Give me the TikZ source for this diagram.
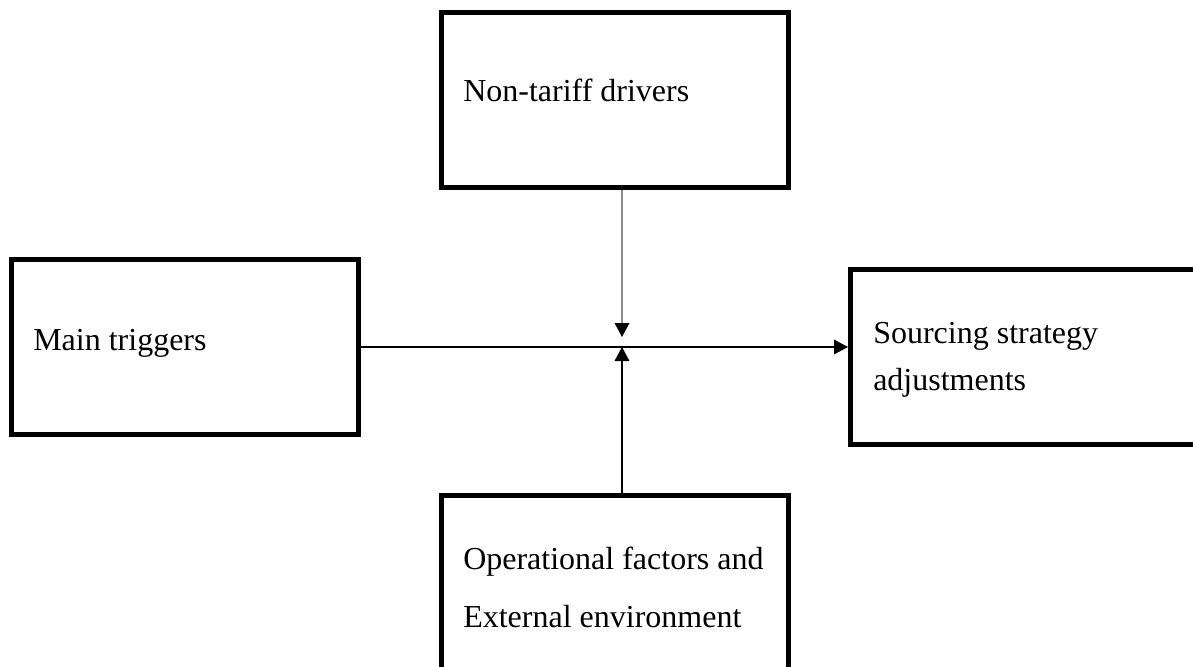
\documentclass[tikz,border=0pt]{standalone}
\usepackage{fontspec}
\setmainfont{Liberation Serif}
\usetikzlibrary{arrows.meta}
\begin{document}
\begin{tikzpicture}[x=0.75pt,y=-0.75pt,
  box/.style={draw, line width=3.75pt, inner sep=0pt, minimum height=131.25pt},
  lbl/.style={anchor=base west, inner sep=0pt, font=\fontsize{24pt}{28pt}\selectfont},
  tipb/.style={-{Triangle[length=10.5pt,width=11pt,color=black]}}]
\useasboundingbox (0,0) rectangle (1193,667);
\clip (0,0) rectangle (1193,667);
% boxes
\node[box, minimum width=260.25pt] (top) at (615,100) {};
\node[box, minimum width=260.25pt] (main) at (185,347) {};
\node[box, minimum width=292.125pt] (src) at (1045.25,357) {};
\node[box, minimum width=260.25pt] (bot) at (615,583) {};
% labels
\node[lbl] (t1) at (463,102) {Non-tariff drivers};
\node[lbl] (t2) at (33,350) {Main triggers};
\node[lbl] (t3) at (873,343) {Sourcing strategy};
\node[lbl] (t4) at (873,390) {adjustments};
\node[lbl] (t5) at (463,569) {Operational factors and};
\node[lbl] (t6) at (463,627) {External environment};
% connectors
\coordinate (j) at (622,347);
\coordinate (gt) at (622,337);
\draw[tipb, line width=0.9pt] (main.east) -- (src.west |- main.east);
\draw[tipb, line width=1.1pt, color=black!45] (top.south -| j) -- (gt);
\draw[tipb, line width=0.9pt] (bot.north -| j) -- (j);
\end{tikzpicture}
\end{document}
